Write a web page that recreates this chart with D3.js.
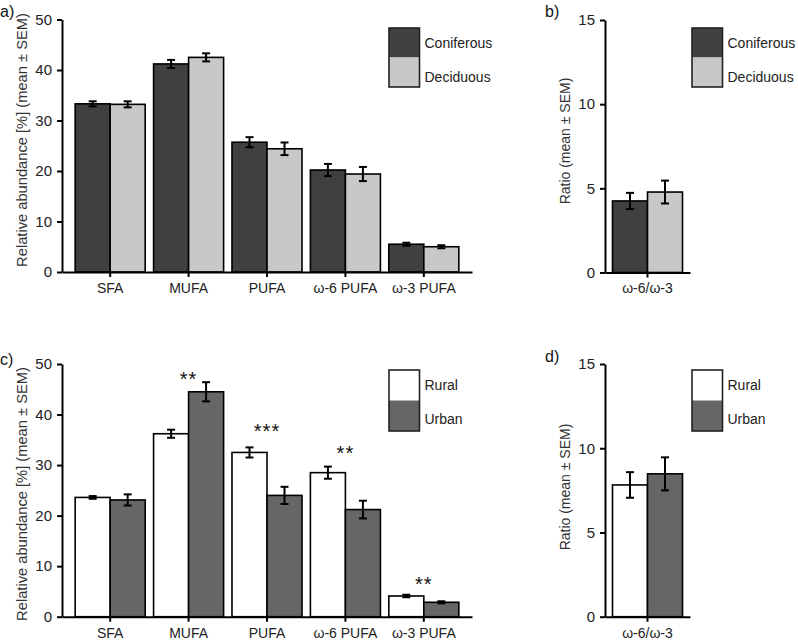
<!DOCTYPE html>
<html>
<head>
<meta charset="utf-8">
<script src="https://cdn.jsdelivr.net/npm/d3@7"></script>
<style>
  html, body { margin: 0; padding: 0; background: #fff; }
  svg { display: block; font-family: "Liberation Sans", Arial, sans-serif; }
</style>
</head>
<body>
<svg id="chart" width="798" height="644"></svg>
<script>
// ---------- DATA ----------
const categories = ["SFA", "MUFA", "PUFA", "ω-6 PUFA", "ω-3 PUFA"];
const ratioCategories = ["ω-6/ω-3"];
const forestSeries = ["Coniferous", "Deciduous"];
const habitatSeries = ["Rural", "Urban"];

const coniferousMean = [33.3, 41.2, 25.7, 20.2, 5.5];
const coniferousSEM  = [0.5, 0.8, 1.0, 1.2, 0.3];
const deciduousMean  = [33.2, 42.5, 24.4, 19.4, 5.0];
const deciduousSEM   = [0.6, 0.8, 1.25, 1.4, 0.3];

const coniferousRatio = [4.25];
const coniferousRatioSEM = [0.48];
const deciduousRatio = [4.78];
const deciduousRatioSEM = [0.68];

const ruralMean = [23.6, 36.2, 32.5, 28.5, 4.1];
const ruralSEM  = [0.27, 0.8, 1.0, 1.2, 0.25];
const urbanMean = [23.1, 44.5, 24.0, 21.2, 2.85];
const urbanSEM  = [1.1, 1.9, 1.7, 1.75, 0.2];

const ruralRatio = [7.82];
const ruralRatioSEM = [0.76];
const urbanRatio = [8.48];
const urbanRatioSEM = [0.98];

const sigLabels = ["", "**", "***", "**", "**"];
const sigLevels = [null, 45.7, 35.4, 31.1, 5.1];

const abundanceTicks = [0, 10, 20, 30, 40, 50];
const ratioTicks = [0, 5, 10, 15];

// ---------- DRAW ----------
const svg = d3.select("#chart");
svg.append("rect").attr("width", 798).attr("height", 644).attr("fill", "#fff");

function panel(o) {
  const g = svg.append("g");
  const y = d3.scaleLinear().domain([0, o.yMax]).range([o.yBottom, o.yTop]);
  const x0 = d3.scaleBand().domain(o.cats).range([o.xLeft, o.xRight])
    .paddingInner(o.padInner).paddingOuter(o.padOuter);
  const x1 = d3.scaleBand().domain(o.series).range([0, x0.bandwidth()]);

  // bars
  o.series.forEach((s, si) => {
    const means = o.means[si], sems = o.sems[si];
    const grp = g.append("g");
    grp.selectAll("rect").data(o.cats).join("rect")
      .attr("x", d => x0(d) + x1(s))
      .attr("y", (d, i) => y(means[i]))
      .attr("width", x1.bandwidth())
      .attr("height", (d, i) => y(0) - y(means[i]))
      .attr("fill", o.colors[si])
      .attr("stroke", "#000")
      .attr("stroke-width", 1.6);
  });
  // error bars
  o.series.forEach((s, si) => {
    const means = o.means[si], sems = o.sems[si];
    const eg = g.append("g").attr("stroke", "#000").attr("stroke-width", 2);
    o.cats.forEach((d, i) => {
      const cx = x0(d) + x1(s) + x1.bandwidth() / 2;
      const lo = y(means[i] - sems[i]), hi = y(means[i] + sems[i]);
      eg.append("line").attr("x1", cx).attr("x2", cx).attr("y1", lo).attr("y2", hi);
      eg.append("line").attr("x1", cx - 4).attr("x2", cx + 4).attr("y1", lo).attr("y2", lo);
      eg.append("line").attr("x1", cx - 4).attr("x2", cx + 4).attr("y1", hi).attr("y2", hi);
    });
  });

  // significance
  if (o.sig) {
    g.append("g").selectAll("text").data(o.cats).join("text")
      .attr("x", d => x0(d) + x0.bandwidth() / 2)
      .attr("y", (d, i) => o.sig.levels[i] == null ? 0 : y(o.sig.levels[i]))
      .attr("text-anchor", "middle")
      .attr("font-size", 20)
      .attr("letter-spacing", 1)
      .attr("fill", "#111")
      .text((d, i) => o.sig.labels[i]);
  }

  // axes
  const ya = g.append("g").attr("transform", `translate(${o.xLeft},0)`)
    .call(d3.axisLeft(y).tickValues(o.ticks).tickSize(5).tickSizeOuter(0).tickPadding(5));
  const xa = g.append("g").attr("transform", `translate(0,${o.yBottom})`)
    .call(d3.axisBottom(x0).tickSize(5).tickSizeOuter(0).tickPadding(6));
  [ya, xa].forEach(a => {
    a.select(".domain").attr("stroke", "#000").attr("stroke-width", 2);
    a.selectAll(".tick line").attr("stroke", "#000").attr("stroke-width", 2);
    a.selectAll(".tick text").attr("fill", "#222").attr("font-family", "Liberation Sans, Arial, sans-serif");
  });
  ya.selectAll(".tick text").attr("font-size", 15);
  xa.selectAll(".tick text").attr("font-size", 14);

  // y title
  g.append("text")
    .attr("transform", `translate(${o.titleX},${o.titleY}) rotate(-90)`)
    .attr("text-anchor", "middle")
    .attr("font-size", o.titleSize)
    .attr("fill", "#333")
    .text(o.title);

  // panel label
  g.append("text").attr("x", o.labelX).attr("y", o.labelY)
    .attr("font-size", 16).attr("fill", "#111").text(o.label);

  // legend
  const L = o.legend;
  const lg = g.append("g");
  lg.selectAll("rect.sw").data(o.series).join("rect")
    .attr("x", L.x).attr("y", (d, i) => L.y + i * L.h)
    .attr("width", L.w).attr("height", L.h)
    .attr("fill", (d, i) => o.colors[i]);
  lg.append("rect").attr("x", L.x).attr("y", L.y).attr("width", L.w).attr("height", L.h * 2)
    .attr("fill", "none").attr("stroke", "#222").attr("stroke-width", 1.6);
  lg.selectAll("text").data(o.series).join("text")
    .attr("x", L.x + L.w + 5)
    .attr("y", (d, i) => L.y + 20 + i * 33.5)
    .attr("font-size", 14).attr("fill", "#222")
    .text(d => d);
}

const dark = "#404040", light = "#c8c8c8", white = "#ffffff", urbanGrey = "#666666";

// a)
panel({
  cats: categories, series: forestSeries, colors: [dark, light],
  means: [coniferousMean, deciduousMean], sems: [coniferousSEM, deciduousSEM],
  xLeft: 62, xRight: 472, yTop: 19.5, yBottom: 272, yMax: 50, ticks: abundanceTicks,
  padInner: 0.107, padOuter: 0.168,
  title: "Relative abundance [%] (mean ± SEM)", titleX: 27, titleY: 140, titleSize: 14.7,
  label: "a)", labelX: 0, labelY: 17,
  legend: { x: 389, y: 28, w: 30.5, h: 29.5 }
});
// b)
panel({
  cats: ratioCategories, series: forestSeries, colors: [dark, light],
  means: [coniferousRatio, deciduousRatio], sems: [coniferousRatioSEM, deciduousRatioSEM],
  xLeft: 605, xRight: 690, yTop: 20, yBottom: 272.5, yMax: 15, ticks: ratioTicks,
  padInner: 0, padOuter: 0.107,
  title: "Ratio (mean ± SEM)", titleX: 570, titleY: 141, titleSize: 14,
  label: "b)", labelX: 545, labelY: 17,
  legend: { x: 692, y: 28, w: 30.5, h: 29.5 }
});
// c)
panel({
  cats: categories, series: habitatSeries, colors: [white, urbanGrey],
  means: [ruralMean, urbanMean], sems: [ruralSEM, urbanSEM],
  xLeft: 62, xRight: 472, yTop: 364, yBottom: 616.7, yMax: 50, ticks: abundanceTicks,
  padInner: 0.107, padOuter: 0.168,
  title: "Relative abundance [%] (mean ± SEM)", titleX: 27, titleY: 494, titleSize: 14.7,
  label: "c)", labelX: 0, labelY: 365,
  legend: { x: 389, y: 370, w: 30.5, h: 30.5 },
  sig: { labels: sigLabels, levels: sigLevels }
});
// d)
panel({
  cats: ratioCategories, series: habitatSeries, colors: [white, urbanGrey],
  means: [ruralRatio, urbanRatio], sems: [ruralRatioSEM, urbanRatioSEM],
  xLeft: 605, xRight: 690, yTop: 364, yBottom: 616.7, yMax: 15, ticks: ratioTicks,
  padInner: 0, padOuter: 0.107,
  title: "Ratio (mean ± SEM)", titleX: 570, titleY: 487, titleSize: 14,
  label: "d)", labelX: 545, labelY: 362,
  legend: { x: 692, y: 370, w: 30.5, h: 30.5 }
});
</script>
</body>
</html>
